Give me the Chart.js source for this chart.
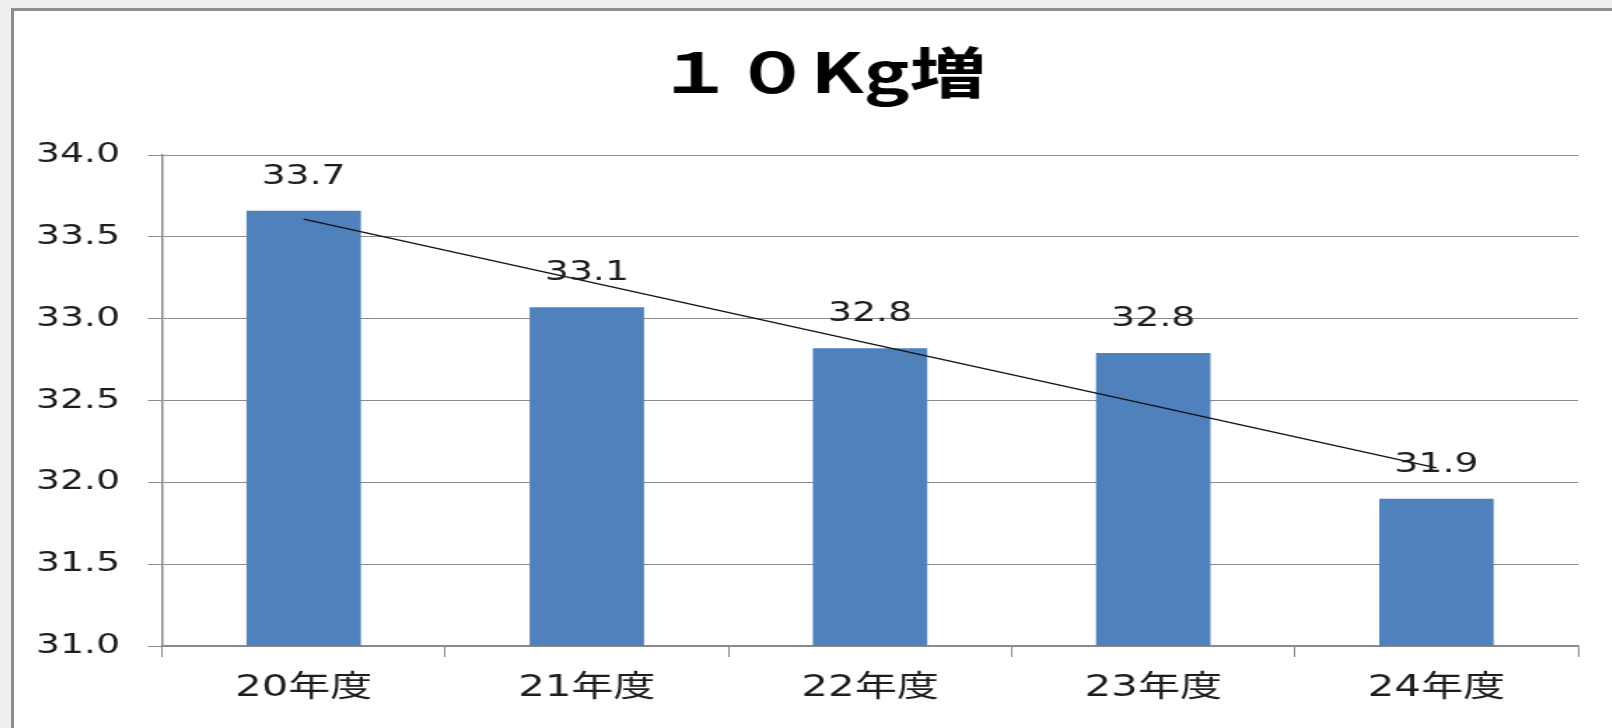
<!DOCTYPE html>
<html lang="ja">
<head>
<meta charset="utf-8">
<title>１０Kg増</title>
<script src="https://cdn.jsdelivr.net/npm/chart.js@4/dist/chart.umd.min.js"></script>
<style>
  html, body { margin: 0; padding: 0; }
  body {
    width: 1612px; height: 728px; overflow: hidden; position: relative;
    background: #efefef;
  }
  .frame {
    position: absolute; left: 11px; top: 8px; right: -10px; bottom: -10px;
    border: 3px solid #8d8d8d; background: #ffffff;
  }
  #chart {
    position: absolute; left: 24px; top: 0;
    transform: scaleX(1.4); transform-origin: 0 0;
  }
</style>
</head>
<body>
<div class="frame"></div>
<canvas id="chart" width="1134" height="728"></canvas>
<script>
// Fiscal years and the average value for each
const categories = ['20年度', '21年度', '22年度', '23年度', '24年度'];
const values = [33.66, 33.07, 32.82, 32.79, 31.90];
const yTicks = { min: 31, max: 34, step: 0.5 };
const titleText = '１０Kg増';

// Least-squares linear trend through the yearly values
function linearTrend(ys) {
  const n = ys.length;
  const mx = (n - 1) / 2;
  const my = ys.reduce((a, b) => a + b, 0) / n;
  let num = 0, den = 0;
  ys.forEach((y, i) => { num += (i - mx) * (y - my); den += (i - mx) * (i - mx); });
  const slope = num / den;
  return ys.map((_, i) => my + slope * (i - mx));
}
const trend = linearTrend(values);

const textColor = '#1e1e1e';
const gridColor = '#8a8a8a';
const numFont = { family: '"DejaVu Sans", "Noto Sans CJK JP", sans-serif', size: 27 };
const fmt = (v) => (Math.round(v * 10) / 10).toFixed(1);

// Value labels above each bar
const barValueLabels = {
  id: 'barValueLabels',
  afterDatasetsDraw(chart) {
    const meta = chart.getDatasetMeta(0);
    const ctx = chart.ctx;
    ctx.save();
    ctx.font = `${numFont.size}px ${numFont.family}`;
    ctx.fillStyle = textColor;
    ctx.textAlign = 'center';
    ctx.textBaseline = 'middle';
    meta.data.forEach((bar, i) => {
      ctx.fillText(fmt(values[i]), bar.x, bar.y - 34);
    });
    ctx.restore();
  }
};

// Let the y-axis labels use the space left of the padded area
const widenYAxisBox = {
  id: 'widenYAxisBox',
  afterLayout(chart) {
    const y = chart.scales.y;
    y.left = 0;
    y.width = y.right;
  }
};

new Chart(document.getElementById('chart'), {
  data: {
    labels: categories,
    datasets: [
      {
        type: 'bar',
        data: values,
        backgroundColor: '#4f81bd',
        borderWidth: 0,
        barPercentage: 0.404,
        categoryPercentage: 1.0,
        order: 2
      },
      {
        type: 'line',
        data: trend,
        borderColor: '#111111',
        borderWidth: 1.3,
        pointRadius: 0,
        tension: 0,
        fill: false,
        order: 1
      }
    ]
  },
  options: {
    responsive: false,
    animation: false,
    devicePixelRatio: 1,
    layout: { padding: { left: 29.4, right: 24, top: 0, bottom: 0 } },
    plugins: {
      legend: { display: false },
      tooltip: { enabled: false },
      title: {
        display: true,
        text: titleText,
        color: '#000000',
        font: { family: '"Noto Sans CJK JP", sans-serif', size: 55, weight: 'bold', lineHeight: 1.2 },
        padding: { top: 39, bottom: 50 }
      }
    },
    scales: {
      x: {
        offset: true,
        grid: {
          offset: true,
          drawOnChartArea: false,
          drawTicks: true,
          tickLength: 11,
          color: gridColor,
          lineWidth: 1
        },
        border: { display: true, color: gridColor, width: 1.5 },
        ticks: {
          color: textColor,
          font: { family: '"DejaVu Sans", "Noto Sans CJK JP", sans-serif', size: 30 },
          padding: 13,
          maxRotation: 0
        },
        afterFit(scale) { scale.height = 82; }
      },
      y: {
        min: yTicks.min,
        max: yTicks.max,
        grid: {
          color: gridColor,
          lineWidth: 1,
          drawTicks: true,
          tickLength: 10
        },
        border: { display: true, color: gridColor, width: 1.5 },
        ticks: {
          stepSize: yTicks.step,
          color: textColor,
          font: numFont,
          padding: 20,
          callback: (v) => Number(v).toFixed(1)
        },
        afterFit(scale) { scale.width = 69.2; }
      }
    }
  },
  plugins: [barValueLabels, widenYAxisBox]
});
</script>
</body>
</html>
